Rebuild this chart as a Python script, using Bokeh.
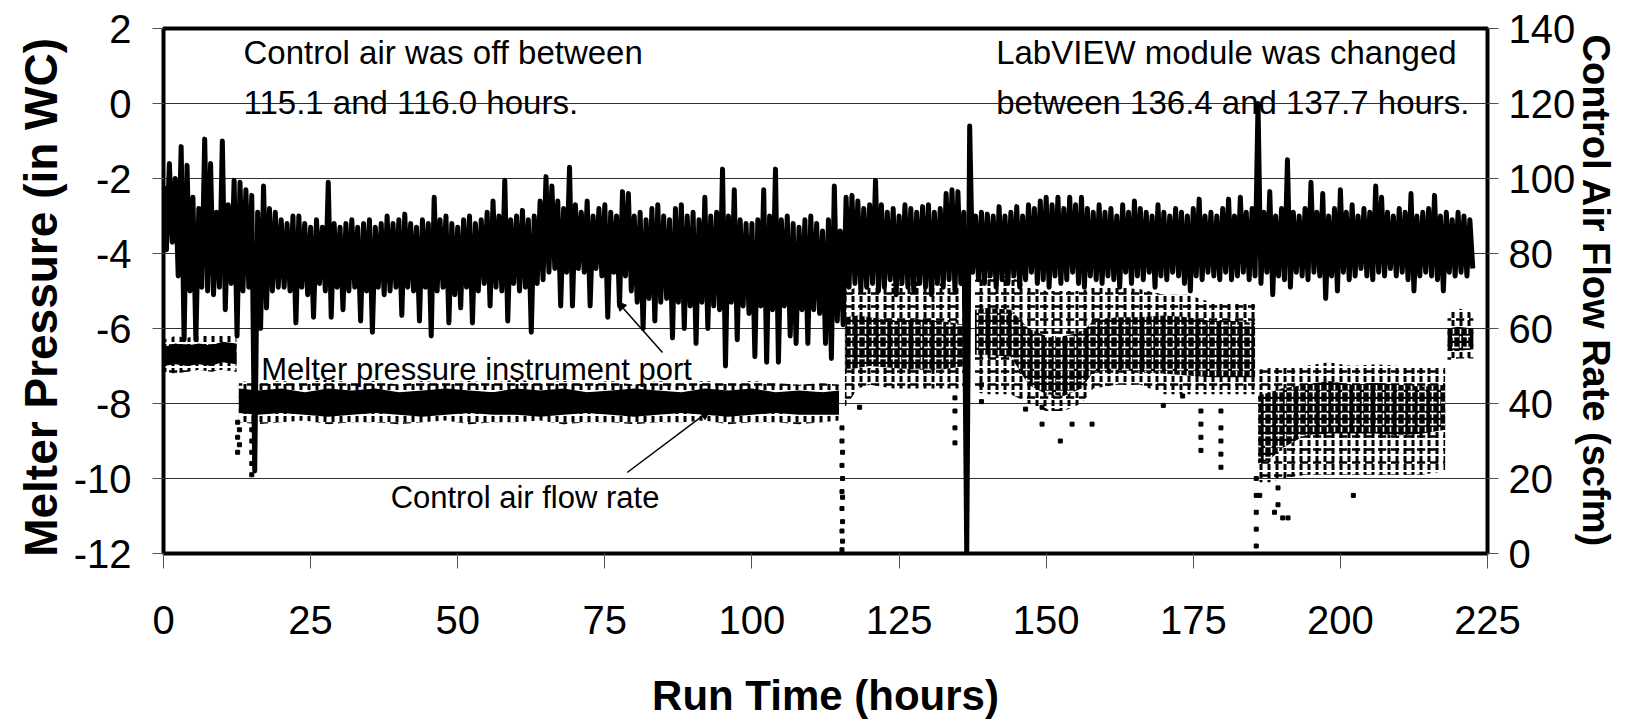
import math
from bokeh.plotting import figure
from bokeh.models import (Range1d, LinearAxis, FixedTicker, Label, Arrow, NormalHead,
                          CustomJSTickFormatter)
from bokeh.embed import file_html
from bokeh.resources import INLINE

FONT = "Liberation Sans"
nan = float("nan")

# ---------------- data ----------------
hours = list(range(223))
pressure_hi = [
    -2.2, -1.6, -2.0, -1.15, -1.65, -2.5, -2.8, -0.95, -1.6, -2.9,
    -1.0, -2.7, -2.05, -2.1, -2.3, -2.45, -2.9, -2.2, -2.8, -2.9,
    -3.1, -3.2, -3.0, -3.0, -3.2, -3.3, -3.1, -3.3, -2.1, -3.2,
    -3.3, -3.2, -3.1, -3.3, -3.2, -3.1, -3.3, -3.2, -3.0, -3.2,
    -3.1, -2.95, -3.2, -3.3, -3.1, -3.2, -2.5, -3.1, -3.0, -3.2,
    -3.3, -3.1, -3.0, -3.2, -3.1, -2.9, -2.6, -3.0, -2.05, -3.1,
    -3.0, -2.85, -3.1, -3.0, -2.6, -1.95, -2.2, -2.6, -2.8, -1.7,
    -2.7, -2.9, -2.6, -3.0, -2.8, -2.7, -2.9, -3.0, -2.35, -2.4,
    -3.0, -2.9, -3.1, -2.8, -2.7, -3.0, -3.1, -2.8, -2.7, -3.0,
    -2.9, -3.1, -2.5, -3.0, -2.9, -1.75, -3.0, -2.3, -3.1, -3.2,
    -3.2, -3.1, -2.3, -3.0, -1.75, -3.1, -3.0, -3.2, -3.3, -3.1,
    -3.0, -3.2, -3.4, -3.1, -2.2, -3.4, -2.5, -2.45, -2.6, -2.8,
    -2.7, -2.05, -2.7, -2.9, -2.8, -3.0, -2.7, -2.8, -2.9, -2.75,
    -2.7, -2.9, -2.8, -2.4, -2.3, -2.35, -2.9, -0.6, -3.0, -2.9,
    -2.95, -3.0, -2.75, -3.0, -2.9, -2.75, -3.0, -2.7, -2.8, -2.6,
    -2.5, -2.7, -2.5, -2.8, -2.5, -2.7, -2.5, -2.8, -2.9, -2.7,
    -2.9, -2.8, -3.0, -2.7, -2.9, -2.6, -2.8, -2.9, -3.0, -2.7,
    -2.9, -3.0, -2.8, -2.9, -3.0, -2.8, -2.55, -3.0, -2.9, -3.0,
    -2.8, -2.55, -3.0, -2.5, -2.9, -2.8, 0.0, -2.9, -2.35, -3.0,
    -2.8, -1.5, -2.9, -3.0, -2.8, -2.1, -2.9, -2.4, -3.0, -2.8,
    -2.3, -2.9, -2.7, -3.0, -2.8, -2.9, -2.2, -2.5, -2.9, -3.0,
    -2.8, -2.9, -2.4, -3.0, -2.9, -2.8, -2.45, -3.0, -2.9, -3.1,
    -2.9, -3.0, -3.1,
]
pressure_lo = [
    -3.9, -3.7, -4.6, -6.3, -5.0, -6.3, -4.9, -5.0, -5.1, -4.9,
    -5.5, -4.8, -6.2, -5.0, -4.9, -9.8, -6.0, -5.45, -5.0, -4.9,
    -4.9, -5.0, -5.85, -4.9, -5.1, -5.7, -4.8, -5.0, -5.7, -4.9,
    -5.5, -5.0, -4.9, -5.8, -5.0, -6.1, -4.9, -5.1, -5.0, -4.9,
    -5.65, -4.9, -5.0, -5.8, -4.9, -6.2, -5.0, -4.9, -5.85, -5.1,
    -5.45, -4.9, -5.85, -5.0, -4.8, -5.4, -4.9, -5.0, -5.8, -4.8,
    -5.0, -4.9, -6.1, -4.8, -4.7, -4.5, -4.4, -5.4, -4.5, -5.4,
    -4.4, -4.5, -5.4, -4.4, -4.6, -5.7, -4.5, -5.4, -4.6, -5.0,
    -5.3, -6.0, -5.2, -5.8, -5.3, -5.2, -6.25, -5.3, -6.0, -5.4,
    -6.4, -5.3, -6.0, -5.4, -5.5, -7.0, -5.3, -6.3, -5.4, -5.6,
    -6.75, -5.4, -6.9, -5.5, -6.9, -5.4, -6.2, -6.4, -5.5, -6.4,
    -5.5, -5.6, -6.4, -6.8, -5.8, -5.9, -4.9, -4.8, -5.0, -4.9,
    -4.8, -5.0, -4.9, -4.7, -5.1, -4.8, -4.9, -5.0, -4.8, -4.9,
    -5.1, -4.8, -4.9, -4.7, -5.0, -4.8, -12.0, -4.5, -4.7, -4.8,
    -4.6, -4.9, -4.7, -4.8, -4.6, -4.9, -4.7, -4.5, -4.8, -4.7,
    -4.9, -4.6, -4.8, -4.7, -4.5, -4.8, -4.9, -4.6, -4.7, -4.8,
    -4.6, -4.7, -4.9, -4.5, -4.8, -4.6, -4.7, -4.5, -4.9, -4.6,
    -4.7, -4.5, -4.6, -4.8, -5.0, -4.6, -4.7, -4.5, -4.6, -4.7,
    -4.5, -4.7, -4.6, -4.5, -4.7, -4.6, -4.8, -4.5, -5.1, -4.6,
    -4.7, -4.9, -4.5, -4.6, -4.7, -4.5, -4.6, -5.2, -4.6, -5.0,
    -4.5, -4.7, -4.6, -4.4, -4.6, -4.7, -4.5, -4.6, -4.4, -4.6,
    -4.5, -4.7, -5.0, -4.6, -4.5, -4.6, -4.7, -5.0, -4.5, -4.6,
    -4.5, -4.6, -4.4,
]

# control air flow envelope (scfm); nan separates the recorded stretches
flow_t = [0, 2, 4, 6, 8, 10, 12.4, nan,
          12.8, 16, 20, 24, 28, 32, 36, 40, 44, 48, 52, 56, 60, 64, 68, 72, 76,
          80, 84, 88, 92, 96, 100, 104, 108, 112, 114.8, nan,
          115.8, 118, 120, 124, 128, 132, 136.2, nan,
          137.9, 140, 144, 147, 150, 153, 156, 158, 162, 166, 170, 174, 178, 182, 185.5, nan,
          186, 188, 190, 194, 198, 202, 206, 210, 214, 217.8, nan,
          218.2, 220, 222.6]
flow_top = [57, 58, 57.5, 58.5, 58, 58.5, 58, nan,
            46, 45.5, 46, 45.5, 46.5, 45.5, 46, 45, 46, 45.5, 46, 45.5, 46.5, 45.5,
            46, 45.5, 46, 45, 46, 45.5, 46, 45.5, 46, 45.5, 45, 45.5, 45, nan,
            70, 71, 71, 72, 72.5, 72, 71, nan,
            73, 74, 74, 71, 70, 70, 70, 71, 71, 70.5, 69, 69, 67, 67, 67, nan,
            49, 49.5, 50, 50, 51, 50, 50.5, 50, 49.5, 50, nan,
            64, 65.5, 64]
flow_core_top = [55, 56, 55.5, 56, 55.5, 56.5, 56, nan,
                 44, 43.5, 44, 43, 44, 43.5, 44, 43, 43.5, 44, 43.5, 43, 44, 43.5,
                 44, 43, 43.5, 44, 43.5, 43, 44, 43.5, 44, 43, 43.5, 43, 43.5, nan,
                 63, 63.5, 63, 62, 62.5, 62, 61, nan,
                 65, 65.5, 65, 60, 58, 58, 59, 62, 63, 63, 63.5, 63, 62, 62, 61.5, nan,
                 42, 43, 44, 45, 46, 45, 45.5, 45, 44.5, 45, nan,
                 60, 60.5, 60]
flow_core_bot = [50, 50.5, 50, 50.5, 50, 51, 50.5, nan,
                 37.5, 37, 37.5, 37, 36.5, 37, 37.5, 37, 36.5, 37, 37.5, 37, 37, 36.5,
                 37, 37.5, 37, 36.5, 37, 37.5, 37, 36.5, 37, 37.5, 37, 37, 37, nan,
                 49, 49.5, 50, 49.5, 49, 49, 50, nan,
                 53, 53, 52.5, 45, 42.5, 42, 44, 48.5, 49, 48.5, 48, 47.5, 47, 47, 47, nan,
                 24, 25, 28, 31.5, 32, 32, 32, 31.5, 32, 33, nan,
                 54, 54, 54.5]
flow_bot = [48.5, 48, 48.5, 49, 48.5, 49, 48.5, nan,
            35, 34.5, 35, 35.5, 34.5, 35, 35, 34.5, 35, 35.5, 34.5, 35, 35, 35.5,
            34.5, 35, 35, 34.5, 35, 35, 35.5, 34.5, 35, 35, 34.5, 35, 35.5, nan,
            39, 44, 45, 44, 44, 44, 44, nan,
            43, 42.5, 42.5, 40, 38, 38, 40, 44, 45, 45, 42.5, 42.5, 42.5, 42.5, 42.5, nan,
            19, 19, 20, 21, 21, 21, 21, 21, 21, 22, nan,
            51.5, 52, 52]

# isolated flow readings outside the band (drops to zero etc.)
drop_t = [12.6, 12.6, 12.6, 12.9, 12.9, 15.0, 15.0, 15.0, 15.0, 15.0,
          115.3, 115.3, 115.4, 115.3, 115.4, 115.3, 115.4, 115.3, 115.4, 115.3, 115.4, 115.3,
          134.5, 134.5, 134.5, 134.5, 118.3, 139.0, 139.0, 146.5, 149.3, 149.3, 152.4,
          154.4, 157.8, 169.9, 173.2, 176.3, 176.3, 176.3, 176.3,
          179.7, 179.7, 179.7, 179.7, 179.7, 185.7, 185.7, 185.7, 185.7, 185.7,
          186.3, 188.8, 189.4, 189.4, 190.2, 191.1, 202.2]
drop_flow = [35, 31, 27, 33, 29, 33, 30, 27, 24, 21,
             33.5, 30, 27, 23.5, 20, 16.5, 15, 12, 8.5, 6, 3.3, 1,
             41.5, 38, 33.5, 29.5, 39, 45, 40.5, 38.5, 39, 34.5, 30,
             34.5, 34.5, 39.5, 42, 38, 34.5, 31, 27.5,
             38, 33.5, 30, 26.5, 23, 20, 15.5, 11, 6.5, 2,
             15.5, 11, 17.5, 13, 9.5, 9.5, 15.5]

x_ticks = [0, 25, 50, 75, 100, 125, 150, 175, 200, 225]
pressure_ticks = [-12, -10, -8, -6, -4, -2, 0, 2]
flow_ticks = [0, 20, 40, 60, 80, 100, 120, 140]

assert len(pressure_hi) == len(hours) == len(pressure_lo)
assert len(flow_t) == len(flow_top) == len(flow_core_top) == len(flow_core_bot) == len(flow_bot)
assert len(drop_t) == len(drop_flow)

# ---------------- figure ----------------
p = figure(width=1625, height=723, output_backend="svg", toolbar_location=None,
           x_range=Range1d(0, 225), y_range=Range1d(-12, 2),
           min_border_left=163, min_border_right=138, min_border_top=28, min_border_bottom=170)
p.extra_y_ranges = {"flow": Range1d(0, 140)}
p.background_fill_color = "white"
p.border_fill_color = "white"
p.outline_line_color = "black"
p.outline_line_width = 4

p.xgrid.visible = False
p.ygrid.ticker = FixedTicker(ticks=pressure_ticks)
p.ygrid.grid_line_color = "#303030"
p.ygrid.grid_line_width = 1

plain = CustomJSTickFormatter(code="return tick.toString();")

def style_axis(ax, tick_out, standoff, title_size, title_standoff):
    ax.axis_line_color = None
    ax.major_tick_in = 0
    ax.major_tick_out = tick_out
    ax.major_tick_line_color = "#505050"
    ax.major_tick_line_width = 1
    ax.minor_tick_line_color = None
    ax.major_label_text_font = FONT
    ax.major_label_text_font_size = "40px"
    ax.major_label_text_color = "black"
    ax.major_label_standoff = standoff
    ax.axis_label_text_font = FONT
    ax.axis_label_text_font_style = "bold"
    ax.axis_label_text_font_size = title_size
    ax.axis_label_text_color = "black"
    ax.axis_label_standoff = title_standoff
    ax.formatter = plain

xa = p.xaxis[0]
xa.ticker = FixedTicker(ticks=x_ticks)
xa.axis_label = "Run Time (hours)"
style_axis(xa, 15, 37, "42px", 35)

ya = p.yaxis[0]
ya.ticker = FixedTicker(ticks=pressure_ticks)
ya.axis_label = "Melter Pressure  (in WC)"
style_axis(ya, 11, 21, "46px", 4)

ra = LinearAxis(y_range_name="flow", ticker=FixedTicker(ticks=flow_ticks),
                axis_label="Control Air Flow Rate (scfm)")
style_axis(ra, 11, 10, "38px", -3)
p.add_layout(ra, "right")

# ---------------- flow rate (speckled band) ----------------
segments = []
cur = []
for i, t in enumerate(flow_t):
    if math.isnan(t):
        if cur:
            segments.append(cur)
        cur = []
    else:
        cur.append(i)
if cur:
    segments.append(cur)

for k, idx in enumerate(segments):
    xs = [flow_t[i] for i in idx]
    top = [flow_top[i] for i in idx]
    ctop = [flow_core_top[i] for i in idx]
    cbot = [flow_core_bot[i] for i in idx]
    bot = [flow_bot[i] for i in idx]
    # sparse fringe of readings
    p.varea(x=xs, y1=bot, y2=top, y_range_name="flow", fill_color=None, fill_alpha=0,
            hatch_pattern=":", hatch_scale=8, hatch_weight=3, hatch_color="black")
    p.varea(x=xs, y1=bot, y2=top, y_range_name="flow", fill_color=None, fill_alpha=0,
            hatch_pattern='"', hatch_scale=13, hatch_weight=2.5, hatch_color="black")
    # dense core of readings
    p.varea(x=xs, y1=cbot, y2=ctop, y_range_name="flow", fill_color="black", fill_alpha=1)
    if k >= 2:
        p.varea(x=xs, y1=cbot, y2=ctop, y_range_name="flow", fill_color=None, fill_alpha=0,
                hatch_pattern=":", hatch_scale=7, hatch_weight=1.6, hatch_color="white")
        p.varea(x=xs, y1=cbot, y2=ctop, y_range_name="flow", fill_color=None, fill_alpha=0,
                hatch_pattern='"', hatch_scale=11, hatch_weight=1.6, hatch_color="white")

p.scatter(x=drop_t, y=drop_flow, y_range_name="flow", marker="square", size=4,
          fill_color="black", line_color="black")

# ---------------- melter pressure (thick jagged line) ----------------
px, py = [], []
for t, hi, lo in zip(hours, pressure_hi, pressure_lo):
    px += [t, t + 0.5]
    py += [hi, lo]
p.line(px, py, line_color="black", line_width=5, line_join="round")

# ---------------- annotations ----------------
def add_label(x, y, text, size):
    p.add_layout(Label(x=x, y=y, text=text, text_font=FONT, text_font_size=size,
                       text_color="black", text_baseline="alphabetic", text_align="left"))

add_label(13.6, 1.35, "Control air was off between", "33px")
add_label(13.6, 0.03, "115.1 and 116.0 hours.", "33px")
add_label(141.5, 1.35, "LabVIEW module was changed", "33px")
add_label(141.5, 0.03, "between 136.4 and 137.7 hours.", "33px")
add_label(16.6, -7.1, "Melter pressure instrument port", "31px")
add_label(38.6, -10.5, "Control air flow rate", "31px")

p.add_layout(Arrow(end=NormalHead(size=9, fill_color="black", line_color="black"),
                   x_start=84.8, y_start=-6.64, x_end=77.1, y_end=-5.28,
                   line_color="black", line_width=1.5))
p.add_layout(Arrow(end=NormalHead(size=9, fill_color="black", line_color="black"),
                   x_start=78.8, y_start=-9.84, x_end=92.8, y_end=-8.19,
                   line_color="black", line_width=1.5))

open("out.html", "w").write(file_html(p, INLINE))
